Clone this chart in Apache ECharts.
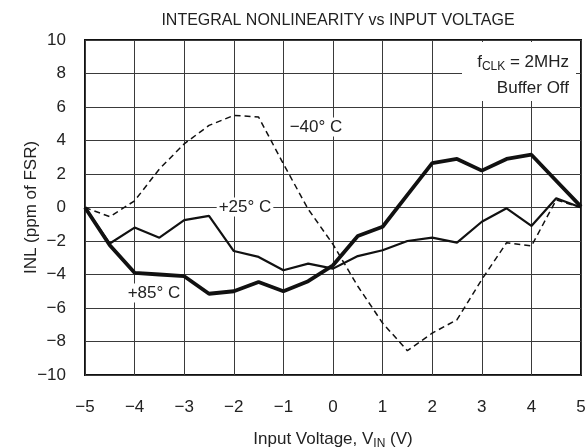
<!DOCTYPE html>
<html><head><meta charset="utf-8">
<script src="https://cdn.jsdelivr.net/npm/echarts@6/dist/echarts.min.js"></script>
<style>html,body{margin:0;padding:0;background:#fff}#c{width:588px;height:447px}</style>
</head><body><div id="c"></div>
<script>
var xVals = [-5,-4.5,-4,-3.5,-3,-2.5,-2,-1.5,-1,-0.5,0,0.5,1,1.5,2,2.5,3,3.5,4,4.5,5];
var minus40 = [0,-0.55,0.4,2.3,3.8,4.9,5.5,5.4,2.6,-0.1,-2.2,-4.7,-6.9,-8.55,-7.5,-6.7,-4.3,-2.1,-2.3,0.45,0];
var plus25 = [0,-2.15,-1.2,-1.8,-0.75,-0.5,-2.6,-2.95,-3.75,-3.35,-3.65,-2.9,-2.55,-2.0,-1.8,-2.1,-0.85,-0.05,-1.1,0.55,0];
var plus85 = [0,-2.25,-3.9,-4.0,-4.1,-5.15,-5.0,-4.45,-5.0,-4.4,-3.45,-1.7,-1.15,0.75,2.65,2.9,2.2,2.9,3.15,1.6,0.05];
var xTicks = [-5,-4,-3,-2,-1,0,1,2,3,4,5];
var yTicks = [-10,-8,-6,-4,-2,0,2,4,6,8,10];

function pairs(ys){ return xVals.map(function(x,i){ return [x, ys[i]]; }); }
function fmt(v){ return v < 0 ? '\u2212' + Math.abs(v) : String(v); }
var FONT = '"Liberation Sans", Arial, sans-serif';
var FS = 17;
var chart = echarts.init(document.getElementById('c'));
var gridCol = '#3a3a3a';
chart.setOption({
  animation: false,
  backgroundColor: '#fff',
  textStyle: {fontFamily: FONT},
  title: {text: 'INTEGRAL NONLINEARITY vs INPUT VOLTAGE', left: 333, textAlign: 'center', top: 8,
    textStyle: {fontFamily: FONT, fontSize: 16, fontWeight: 'normal', color: '#222'}},
  grid: {left: 85, right: 7, top: 40, bottom: 72, show: true, borderColor: '#111', borderWidth: 2,
    containLabel: false, outerBoundsMode: 'none'},
  xAxis: {type: 'value', min: -5, max: 5, interval: 1,
    axisLine: {show: false}, axisTick: {show: false},
    splitLine: {show: true, lineStyle: {color: gridCol, width: 1}},
    axisLabel: {margin: 24, fontSize: FS, color: '#222', fontFamily: FONT,
      formatter: function(v){ return xTicks.indexOf(v) >= 0 ? fmt(v) : ''; }},
    name: '{a|Input Voltage, V}{s|IN}{a| (V)}', nameLocation: 'middle', nameGap: 53, nameMoveOverlap: false,
    nameTextStyle: {rich: {
      a: {fontSize: FS, lineHeight: 22, color: '#222', fontFamily: FONT},
      s: {fontSize: 12, lineHeight: 12, verticalAlign: 'bottom', color: '#222', fontFamily: FONT}}}
  },
  yAxis: {type: 'value', min: -10, max: 10, interval: 2,
    axisLine: {show: false}, axisTick: {show: false},
    splitLine: {show: true, lineStyle: {color: gridCol, width: 1}},
    axisLabel: {margin: 19, fontSize: FS, color: '#222', fontFamily: FONT, padding: [8, 0, 0, 0],
      formatter: function(v){ return yTicks.indexOf(v) >= 0 ? fmt(v) : ''; }},
    name: 'INL (ppm of FSR)', nameLocation: 'middle', nameGap: 45, nameMoveOverlap: false,
    nameTextStyle: {fontSize: FS, color: '#222', fontFamily: FONT}
  },
  series: [
    {name: '-40', type: 'line', data: pairs(minus40), symbol: 'none', z: 3,
      lineStyle: {color: '#111', width: 1.5, type: [6, 4]}},
    {name: '+25', type: 'line', data: pairs(plus25), symbol: 'none', z: 4,
      lineStyle: {color: '#111', width: 2.2}},
    {name: '+85', type: 'line', data: pairs(plus85), symbol: 'none', z: 5,
      lineStyle: {color: '#111', width: 3.8}}
  ],
  graphic: [
    {type: 'rect', z: 10, shape: {x: 462, y: 42, width: 114, height: 59}, style: {fill: '#fff'}},
    {type: 'text', z: 11, x: 569, y: 62, style: {
      text: '{a|f}{s|CLK}{a| = 2MHz}', align: 'right', verticalAlign: 'middle',
      rich: {a: {fontSize: FS, lineHeight: 22, fill: '#222', fontFamily: FONT},
             s: {fontSize: 12, lineHeight: 12, verticalAlign: 'bottom', fill: '#222', fontFamily: FONT}}}},
    {type: 'text', z: 11, x: 569, y: 88, style: {text: 'Buffer Off', align: 'right', verticalAlign: 'middle',
      font: FS + 'px ' + FONT, fill: '#222'}},
    {type: 'text', z: 11, x: 316, y: 127, style: {text: '\u221240\u00b0 C', align: 'center', verticalAlign: 'middle',
      font: FS + 'px ' + FONT, fill: '#222', backgroundColor: '#fff', padding: [1, 2]}},
    {type: 'text', z: 11, x: 245, y: 207, style: {text: '+25\u00b0 C', align: 'center', verticalAlign: 'middle',
      font: FS + 'px ' + FONT, fill: '#222', backgroundColor: '#fff', padding: [1, 2]}},
    {type: 'text', z: 11, x: 154, y: 293, style: {text: '+85\u00b0 C', align: 'center', verticalAlign: 'middle',
      font: FS + 'px ' + FONT, fill: '#222', backgroundColor: '#fff', padding: [1, 2]}}
  ]
});
</script></body></html>
